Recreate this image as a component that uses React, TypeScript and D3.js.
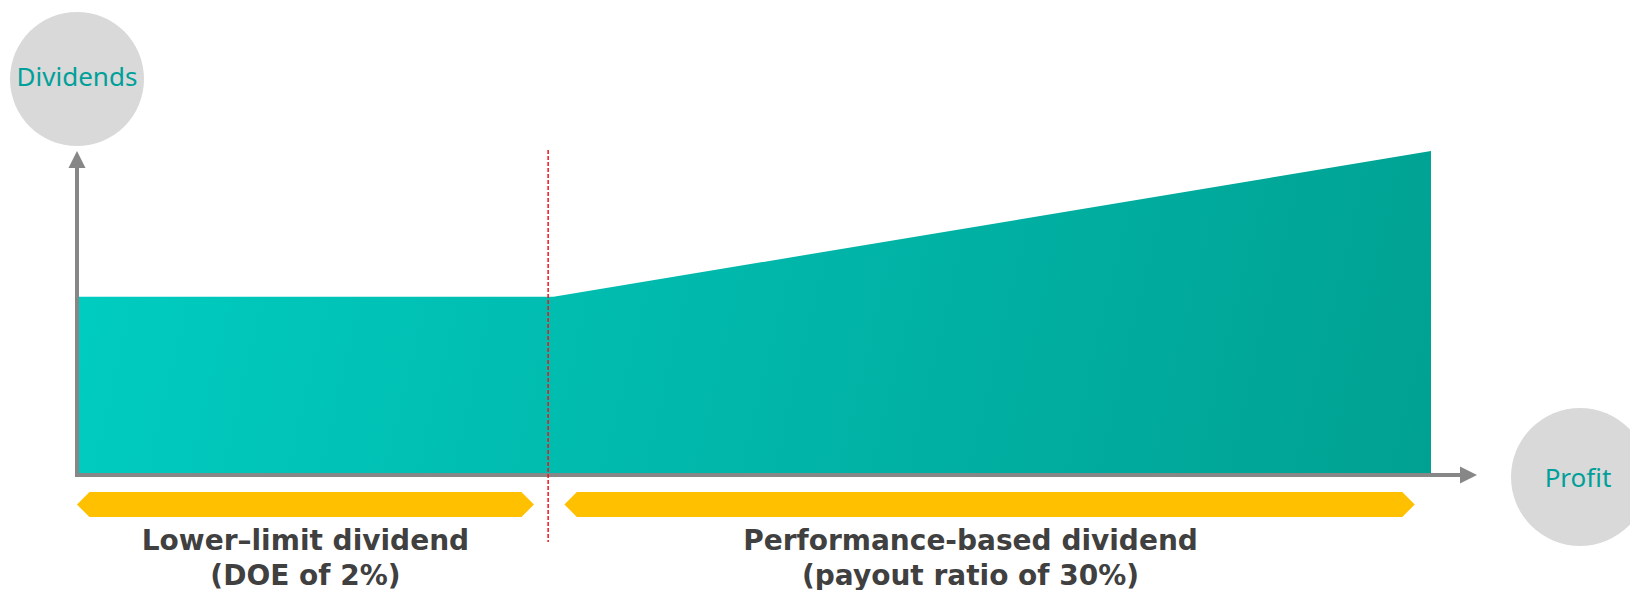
import * as d3 from "d3";

// profit (x) vs dividend (y), arbitrary units
const profit = [0, 35.1, 100];
const dividend = [55, 55, 100];
const boundary = 34.7; // where the DOE floor hands over to the payout ratio

const bandNames = ["lower", "performance"];
const bandStart = [-0.15, 35.9];
const bandEnd = [33.65, 98.8];
const bandLabels = [
  ["Lower\u2013limit dividend", "(DOE of 2%)"],
  ["Performance-based dividend", "(payout ratio of 30%)"],
];

const axisLabels = ["Dividends", "Profit"];

const W = 1630;
const H = 590;

export default function App() {
  const x = d3.scaleLinear().domain([0, 100]).range([79, 1431]);
  const y = d3.scaleLinear().domain([0, 100]).range([475, 151]);

  const points = profit.map((p, i) => [p, dividend[i]] as [number, number]);
  const area = d3
    .area<[number, number]>()
    .x((d) => x(d[0]))
    .y0(y(0))
    .y1((d) => y(d[1]))(points);

  const axisX0 = x(0) - 2;
  const axisY = y(0);
  const xTip = 1477;
  const yTip = 151;
  const arrow = 17;

  const hex = (a: number, b: number, top: number, bot: number) => {
    const mid = (top + bot) / 2;
    const k = (bot - top) / 2;
    return `M${a},${mid} L${a + k},${top} L${b - k},${top} L${b},${mid} L${b - k},${bot} L${a + k},${bot} Z`;
  };

  return (
    <svg
      width={W}
      height={H}
      style={{ position: "absolute", left: 0, top: 0, background: "#fff" }}
    >
      <defs>
        <linearGradient
          id="fillGrad"
          gradientUnits="userSpaceOnUse"
          x1={x(0)}
          y1={y(100)}
          x2={x(100)}
          y2={y(0)}
        >
          <stop offset="0%" stopColor="#00CDC1" />
          <stop offset="100%" stopColor="#00A192" />
        </linearGradient>
      </defs>

      {/* axis label bubbles */}
      <circle cx={77} cy={79} r={67} fill="#D9D9D9" />
      <circle cx={1580} cy={477} r={69} fill="#D9D9D9" />
      <text
        x={77}
        y={86}
        textAnchor="middle"
        fontFamily="Noto Sans"
        fontSize={26}
        fill="#00A09A"
      >
        {axisLabels[0]}
      </text>
      <text
        x={1578}
        y={487}
        textAnchor="middle"
        fontFamily="Noto Sans"
        fontSize={26}
        fill="#00A09A"
      >
        {axisLabels[1]}
      </text>

      {/* dividend area */}
      <path d={area ?? ""} fill="url(#fillGrad)" />

      {/* axes */}
      <line
        x1={axisX0}
        x2={xTip - arrow + 1}
        y1={axisY}
        y2={axisY}
        stroke="#878787"
        strokeWidth={4}
      />
      <path
        d={`M${xTip},${axisY} L${xTip - arrow},${axisY - 8.5} L${xTip - arrow},${axisY + 8.5} Z`}
        fill="#878787"
      />
      <line
        x1={axisX0}
        x2={axisX0}
        y1={axisY + 2}
        y2={yTip + arrow - 1}
        stroke="#878787"
        strokeWidth={4}
      />
      <path
        d={`M${axisX0},${yTip} L${axisX0 - 8.5},${yTip + arrow} L${axisX0 + 8.5},${yTip + arrow} Z`}
        fill="#878787"
      />

      {/* boundary */}
      <line
        x1={x(boundary)}
        x2={x(boundary)}
        y1={150}
        y2={542}
        stroke="#F0141E"
        strokeWidth={1.5}
        strokeDasharray="4,2"
      />

      {/* bands + labels */}
      {bandNames.map((name, i) => {
        const a = x(bandStart[i]);
        const b = x(bandEnd[i]);
        const cx = (a + b) / 2;
        return (
          <g key={name}>
            <path d={hex(a, b, 492, 517)} fill="#FFC000" />
            {bandLabels[i].map((line, j) => (
              <text
                key={j}
                x={i === 0 ? cx : cx - 19}
                y={550 + j * 35}
                textAnchor="middle"
                fontFamily="DejaVu Sans"
                fontWeight="bold"
                fontSize={28}
                fill="#404040"
              >
                {line}
              </text>
            ))}
          </g>
        );
      })}
    </svg>
  );
}
